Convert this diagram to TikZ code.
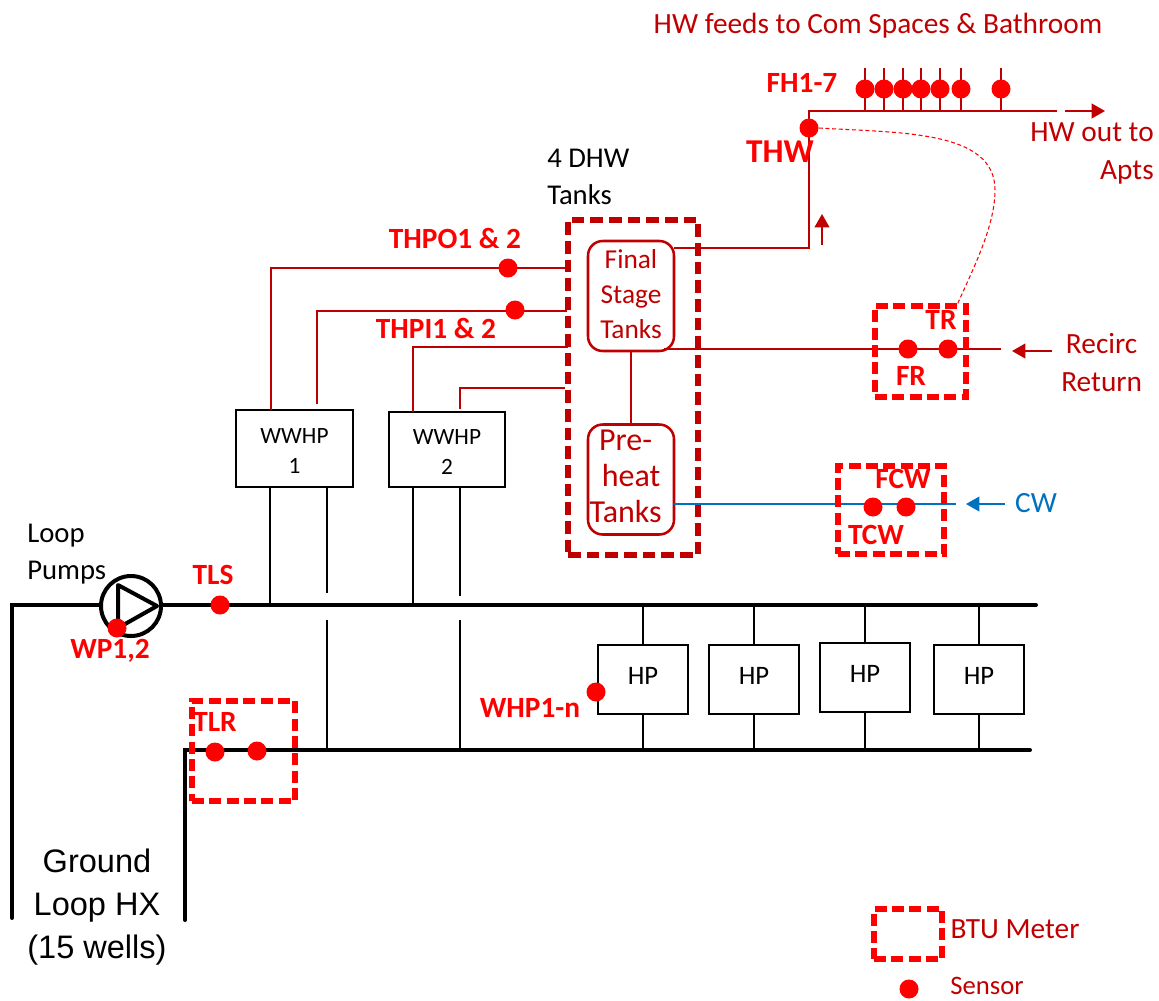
\documentclass[tikz,border=0pt]{standalone}
\usepackage{fontspec}
\setmainfont{Carlito}
\newfontfamily\arialfont{Liberation Sans}
\usepackage{xcolor}
\usetikzlibrary{arrows, arrows.meta, positioning, calc}
\definecolor{HWred}{HTML}{C00000}
\definecolor{BTUred}{HTML}{FF0000}
\definecolor{CWblue}{HTML}{0070C0}
\def\px{0.75pt}
\tikzset{
    sensor/.style={circle, fill=BTUred, inner sep=0pt, minimum size=19*\px},
    mainpipe/.style={line width=3pt, black, line cap=round},
    branchpipe/.style={line width=1.3pt, black},
    hotpipe/.style={line width=1.4pt, HWred},
    btubox/.style={draw=BTUred, line width=3.8pt, dash pattern=on 9pt off 4pt, inner sep=0pt},
    tankbox/.style={draw=HWred, line width=4pt, dash pattern=on 9.5pt off 4.5pt, inner sep=0pt},
    stagebox/.style={draw=HWred, line width=1.9pt, rounded corners=11pt, inner sep=0pt, minimum width=86*\px, minimum height=110*\px, align=center, text=HWred, text depth=3pt, font=\fontsize{20.5}{26}\selectfont},
    unitbox/.style={draw=black, line width=0.8pt, inner sep=0pt, align=center, font=\fontsize{17.5}{23}\selectfont},
    hpbox/.style={draw=black, line width=0.8pt, inner sep=0pt, text depth=6pt, minimum width=90*\px, minimum height=69*\px, font=\fontsize{20}{24}\selectfont},
    tag/.style={text=BTUred, font=\bfseries\fontsize{22}{26}\selectfont, inner sep=0pt},
    note/.style={text=HWred, font=\fontsize{22}{28.5}\selectfont, inner sep=0pt, align=center},
    blacknote/.style={text=black, font=\fontsize{21.5}{28}\selectfont, inner sep=0pt, align=left},
    flow/.style={line width=1.5pt, -{Triangle[length=10pt, width=11pt]}}
}
\begin{document}
\begin{tikzpicture}[x=\px, y=-\px]
    \useasboundingbox (0,0) rectangle (1159,1000);

    \node[tankbox, minimum width=130*\px, minimum height=335*\px] (tanks) at (633,387.5) {};
    \node[stagebox] (final) at (631,296) {Final\\Stage\\Tanks};
    \node[stagebox, text depth=4.5pt, font=\fontsize{24}{27}\selectfont] (preheat) at (631,479.5) {Pre-\hspace*{8pt}\\heat\hspace*{8pt}\\Tanks\hspace*{8pt}};
    \node[unitbox, minimum width=117*\px, minimum height=77*\px] (wwhpa) at (294.5,448.5) {\rule{0pt}{15pt}WWHP\\1};
    \node[unitbox, minimum width=116*\px, minimum height=75*\px] (wwhpb) at (447,449.5) {\rule{0pt}{15pt}WWHP\\2};

    \coordinate (loopstart) at (12,918);
    \coordinate (loopcorner) at (12,605);
    \coordinate (supplyend) at (1036,605);
    \coordinate (returnstart) at (185,920);
    \coordinate (returncorner) at (185,750);
    \coordinate (returnend) at (1030,750);
    \draw[mainpipe] (loopstart) -- (loopcorner) -- (supplyend);
    \draw[mainpipe] (returnstart) -- (returncorner) -- (returnend);

    \node[circle, draw=black, fill=white, line width=3pt, minimum size=60*\px, inner sep=0pt] (pump) at (131,606) {};
    \coordinate (pumpa) at (118,585);
    \coordinate (pumpb) at (157,606);
    \coordinate (pumpc) at (118,628);
    \draw[line width=3pt, line join=round] (pumpa) -- (pumpb) -- (pumpc) -- cycle;

    \coordinate (hpoa) at (271,410);
    \coordinate (hpob) at (567,268);
    \coordinate (hpia) at (317,404);
    \coordinate (hpib) at (567,311);
    \coordinate (hpoc) at (413,412);
    \coordinate (hpod) at (568,347);
    \coordinate (hpic) at (460,409);
    \coordinate (hpid) at (565,388);
    \draw[hotpipe] (hpoa) |- (hpob);
    \draw[hotpipe] (hpia) |- (hpib);
    \draw[hotpipe] (hpoc) |- (hpod);
    \draw[hotpipe] (hpic) |- (hpid);

    \foreach \name/\xa/\ya/\yb in {a/270/487/605, b/327/487/593, c/327/620/750, d/413/487/605, e/460/487/596, f/460/620/750}{
        \coordinate (drop\name a) at (\xa,\ya);
        \coordinate (drop\name b) at (\xa,\yb);
        \draw[branchpipe] (drop\name a) -- (drop\name b);
    }

    \foreach \name/\xa/\ya in {a/643/645, b/754/645, c/865/643, d/979/645}{
        \node[hpbox] (hp\name) at (\xa+0,\ya+34.5) {HP};
        \coordinate (hp\name top) at (\xa,605);
        \coordinate (hp\name bot) at (\xa,750);
        \draw[branchpipe] (hp\name top) -- (hp\name.north);
        \draw[branchpipe] (hp\name.south) -- (hp\name bot);
    }

    \coordinate (finalout) at (674,248);
    \coordinate (hwrise) at (809,248);
    \coordinate (hwcorner) at (809,111);
    \coordinate (hwend) at (1057,111);
    \draw[hotpipe] (finalout) -- (hwrise) -- (hwcorner) -- (hwend);
    \draw[hotpipe] (final.south) -- (preheat.north);
    \coordinate (recircin) at (1001,349);
    \coordinate (recircout) at (664,349);
    \draw[hotpipe] (recircin) -- (recircout);
    \coordinate (cwin) at (956,504);
    \coordinate (cwout) at (674,504);
    \draw[line width=1.1pt, CWblue] (cwin) -- (cwout);

    \foreach \i/\xa in {1/865, 2/884, 3/903, 4/921, 5/940, 6/961, 7/1001}{
        \coordinate (fhtop\i) at (\xa,68);
        \coordinate (fhbot\i) at (\xa,111);
        \draw[hotpipe] (fhtop\i) -- (fhbot\i);
        \node[sensor] (fh\i) at (\xa,89) {};
    }

    \node[sensor] (thw) at (809,128) {};
    \node[sensor] (tr) at (948,349) {};
    \node[sensor] (fr) at (908,349) {};
    \node[sensor] (fcw) at (906,507) {};
    \node[sensor] (tcw) at (873,507) {};
    \node[sensor] (thpo) at (508,268) {};
    \node[sensor] (thpi) at (515,310) {};
    \node[sensor] (tls) at (220,605) {};
    \node[sensor] (wp) at (117,628) {};
    \node[sensor] (tlra) at (215,752) {};
    \node[sensor] (tlrb) at (257,751) {};
    \node[sensor] (whp) at (596,692) {};
    \node[sensor] (legendsensor) at (909,989) {};

    \node[btubox, minimum width=91*\px, minimum height=91*\px] (trbox) at (920.5,351.5) {};
    \node[btubox, minimum width=106*\px, minimum height=88*\px] (cwbox) at (891,510) {};
    \node[btubox, minimum width=103*\px, minimum height=100*\px] (tlrbox) at (243.5,751) {};
    \node[btubox, minimum width=68*\px, minimum height=50*\px] (legendbox) at (908,934) {};

    \draw[BTUred, line width=0.8pt, densely dashed] (thw.east) .. controls (900,133) and (995,130) .. (995,190) .. controls (995,225) and (975,265) .. (957,305);

    \coordinate (uparrowa) at (822,245);
    \coordinate (uparrowb) at (822,214);
    \coordinate (outarrowa) at (1065,111);
    \coordinate (outarrowb) at (1105,111);
    \coordinate (recarrowa) at (1052,351);
    \coordinate (recarrowb) at (1012,351);
    \coordinate (cwarrowa) at (1005,504);
    \coordinate (cwarrowb) at (966,504);
    \draw[flow, HWred] (uparrowa) -- (uparrowb);
    \draw[flow, HWred] (outarrowa) -- (outarrowb);
    \draw[flow, HWred] (recarrowa) -- (recarrowb);
    \draw[flow, CWblue] (cwarrowa) -- (cwarrowb);

    \node[note] (feeds) at (878,26) {HW feeds to Com Spaces \& Bathroom};
    \node[note, anchor=east] (hwout) at (1154,153) {\hfill HW out to\\\hfill Apts};
    \node[note, anchor=west] (recirc) at (1061,363) {\hfill Recirc\\Return};
    \node[note, text=CWblue] (cwlabel) at (1036,503) {CW};
    \node[note] (btulabel) at (1015,929) {BTU Meter};
    \node[note, font=\fontsize{20}{24}\selectfont] (sensorlabel) at (987,986) {Sensor};
    \node[blacknote, anchor=west] (dhw) at (547,177) {4 DHW\\Tanks};
    \node[blacknote, anchor=west] (looppumps) at (27,554) {Loop\\Pumps};
    \node[inner sep=0pt, align=center, font=\arialfont\fontsize{24.4}{32}\selectfont] (ground) at (97,907) {Ground\\Loop HX\\(15 wells)};

    \node[tag] (fhlabel) at (802,83) {FH1-7};
    \node[tag, font=\bfseries\fontsize{25}{29}\selectfont] (thwlabel) at (780,152) {THW};
    \node[tag] (trlabel) at (941,320) {TR};
    \node[tag] (frlabel) at (911,376) {FR};
    \node[tag] (fcwlabel) at (903,479) {FCW};
    \node[tag] (tcwlabel) at (876,535) {TCW};
    \node[tag] (thpolabel) at (455,238) {THPO1 \& 2};
    \node[tag] (thpilabel) at (436,328) {THPI1 \& 2};
    \node[tag] (tlslabel) at (213,575) {TLS};
    \node[tag] (wplabel) at (110,651) {WP1,2};
    \node[tag] (tlrlabel) at (215,722) {TLR};
    \node[tag] (whplabel) at (530,708) {WHP1-n};
\end{tikzpicture}
\end{document}
